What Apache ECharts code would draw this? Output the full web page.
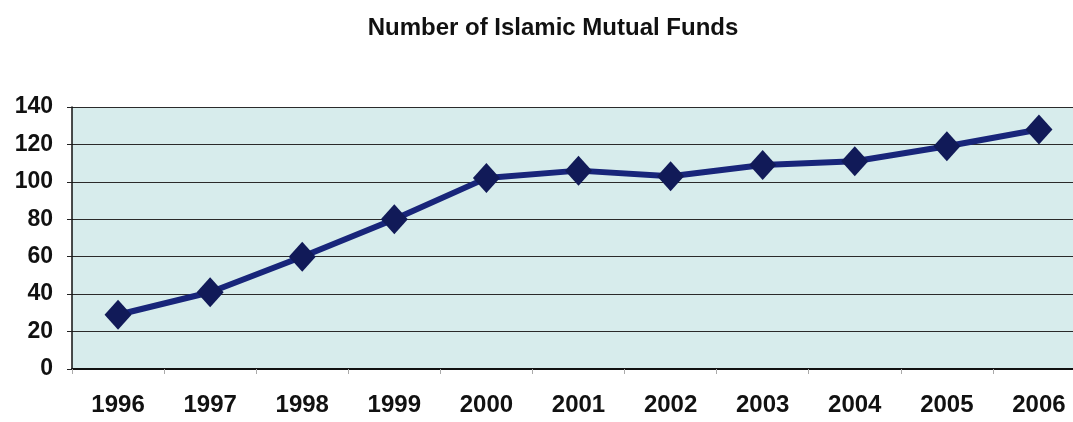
<!DOCTYPE html>
<html>
<head>
<meta charset="utf-8">
<title>Number of Islamic Mutual Funds</title>
<script src="https://cdn.jsdelivr.net/npm/echarts@6/dist/echarts.min.js"></script>
<style>
  html, body { margin: 0; padding: 0; background: #ffffff; }
  #chart { width: 1073px; height: 422px; }
</style>
</head>
<body>
<div id="chart"></div>
<script>
// Chart data
const years = ['1996', '1997', '1998', '1999', '2000', '2001', '2002', '2003', '2004', '2005', '2006'];
const fundCounts = [29, 41, 60, 80, 102, 106, 103, 109, 111, 119, 128];
const yTicks = { min: 0, max: 140, step: 20 };
const titleText = 'Number of Islamic Mutual Funds';

const chart = echarts.init(document.getElementById('chart'), null, { renderer: 'canvas' });
const font = '"Liberation Sans", Arial, sans-serif';

chart.setOption({
  animation: false,
  backgroundColor: '#ffffff',
  title: {
    text: titleText,
    left: 548,
    textAlign: 'center',
    top: 11,
    textStyle: { fontFamily: font, fontSize: 24, fontWeight: 'bold', color: '#111111' }
  },
  // the plot runs a little past the right edge of the canvas
  grid: {
    left: 72,
    top: 107,
    height: 262,
    width: 1013,
    outerBoundsMode: 'none',
    containLabel: false,
    show: true,
    backgroundColor: '#d7ecec',
    borderWidth: 0
  },
  xAxis: {
    type: 'category',
    data: years,
    boundaryGap: true,
    axisLine: { show: true, lineStyle: { color: '#111111', width: 2 } },
    axisTick: { show: true, length: 5, lineStyle: { color: '#aaaaaa' } },
    axisLabel: { margin: 24, fontFamily: font, fontSize: 24, fontWeight: 'bold', color: '#111111' },
    splitLine: { show: false }
  },
  yAxis: {
    type: 'value',
    min: yTicks.min,
    max: yTicks.max,
    interval: yTicks.step,
    axisLine: { show: true, lineStyle: { color: '#111111', width: 1.5 } },
    axisTick: { show: true, length: 5, lineStyle: { color: '#222222' } },
    axisLabel: { margin: 19, fontFamily: font, fontSize: 23, fontWeight: 'bold', color: '#111111' },
    splitLine: { show: true, lineStyle: { color: '#2a2a2a', width: 1 } }
  },
  series: [{
    type: 'line',
    data: fundCounts,
    symbol: 'diamond',
    symbolSize: [27, 30],
    lineStyle: { color: '#18257a', width: 6 },
    itemStyle: { color: '#111a58' },
    z: 3
  }]
});
</script>
</body>
</html>
